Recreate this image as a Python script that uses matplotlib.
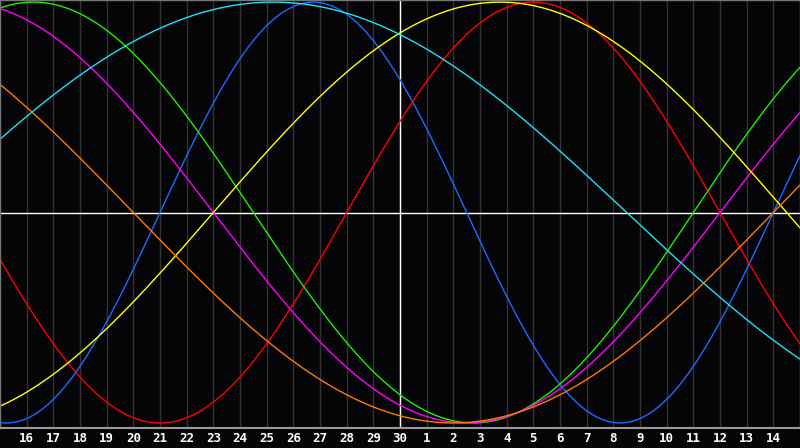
import numpy as np
import matplotlib.pyplot as plt

# biorhythm cycles: length in days, day of cycle at the left edge (the 15th)
cycles = ['physical', 'emotional', 'intellectual', 'intuitive', 'aesthetic', 'awareness', 'spiritual']
periods = [23, 28, 33, 38, 43, 48, 53]
start_phase = [17, 15, 7, 11, 35, 19, 3]
colors = ['#1a6cff', '#ff0000', '#22ee00', '#ff00ff', '#ffff00', '#ff7a00', '#22e0ee']

day_labels = [16, 17, 18, 19, 20, 21, 22, 23, 24, 25, 26, 27, 28, 29, 30,
              1, 2, 3, 4, 5, 6, 7, 8, 9, 10, 11, 12, 13, 14]
n_days = 30
today = 15

bg = '#050508'
fig = plt.figure(figsize=(8, 4.48), dpi=100, facecolor=bg)
ax = fig.add_axes([0, 20 / 448, 1, 428 / 448], facecolor=bg)

t = np.linspace(0, n_days, 1201)
for p, ph, c in zip(periods, start_phase, colors):
    ax.plot(t, np.sin(2 * np.pi * (ph + t) / p), color=c, lw=1.0)

ticks = np.arange(1, n_days)
ax.set_xticks(ticks)
ax.set_xticklabels([str(d) for d in day_labels], color='white', fontsize=9,
                   fontweight='bold', family='DejaVu Sans Mono')
ax.tick_params(axis='x', length=0, pad=3)
ax.set_yticks([])
ax.grid(axis='x', color='#333333', lw=1.0)
ax.set_axisbelow(True)

ax.axvline(today, color='white', lw=1.0, zorder=1.5)
ax.axhline(0, color='white', lw=1.0, zorder=1.5)

ax.set_xlim(0, n_days)
ax.set_ylim(-1.024, 1.01)
for s in ['left', 'top', 'right']:
    ax.spines[s].set_color('#777777')
    ax.spines[s].set_linewidth(1.0)
ax.spines['bottom'].set_color('#999999')
ax.spines['bottom'].set_linewidth(1.5)

fig.savefig('out.png', dpi=100, facecolor=bg)
